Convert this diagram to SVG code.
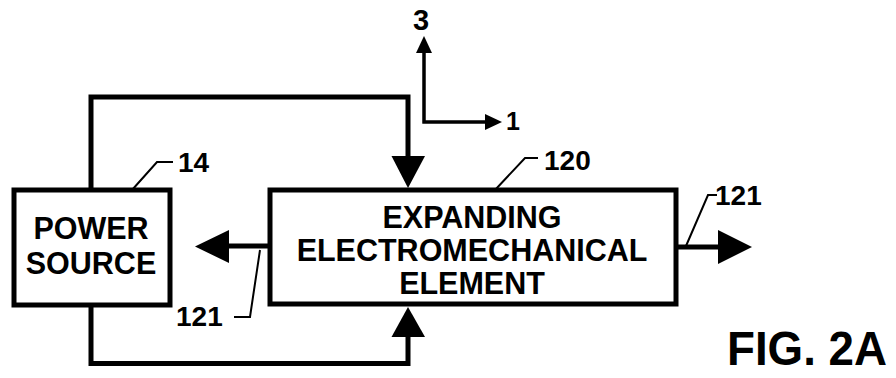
<svg xmlns="http://www.w3.org/2000/svg" width="896" height="378" viewBox="0 0 896 378">
<style>
.box{fill:#fff;stroke:#000;stroke-width:5}
.wire{fill:none;stroke:#000;stroke-width:5;stroke-linejoin:miter}
.axis{fill:none;stroke:#000;stroke-width:3.5}
.lead{fill:none;stroke:#000;stroke-width:2}
.head{fill:#000;stroke:none}
.t{font-family:"Liberation Sans",Arial,sans-serif;font-weight:bold;fill:#000}
.lbl{font-size:30.5px;text-anchor:middle}
.ref{font-size:28px}
</style>
<rect width="896" height="378" fill="#fff"/>
<g id="connectors">
<path class="wire" d="M91,190 V97 H408 V160"/>
<polygon class="head" points="391.5,156 425,156 408,188"/>
<path class="wire" d="M91,305 V363.5 H408 V334"/>
<polygon class="head" points="391.5,337 425,337 408,307"/>
<path class="wire" d="M270,246 H226"/>
<polygon class="head" points="229,230 229,263 195,246.5"/>
<path class="wire" d="M676,247 H722"/>
<polygon class="head" points="718,230 718,264 752,247"/>
</g>
<g id="axes">
<path class="axis" d="M424,123 V50 M422.3,122 H488"/>
<polygon class="head" points="416,53 432,53 424,36"/>
<polygon class="head" points="485,114 485,130 502,122"/>
<text class="t" x="421" y="30" font-size="29" text-anchor="middle">3</text>
<text class="t" x="506" y="130" font-size="25">1</text>
</g>
<g id="power-source">
<rect class="box" x="14" y="190" width="156" height="115"/>
<text class="t lbl" x="91" y="239">POWER</text>
<text class="t lbl" x="91" y="274">SOURCE</text>
</g>
<g id="expanding-element">
<rect class="box" x="270" y="190" width="406" height="114"/>
<text class="t lbl" x="472" y="228">EXPANDING</text>
<text class="t lbl" x="472" y="261">ELECTROMECHANICAL</text>
<text class="t lbl" x="472" y="294">ELEMENT</text>
</g>
<g id="labels">
<path class="lead" d="M132,190 L157,162 H173"/>
<text class="t ref" x="178" y="172">14</text>
<path class="lead" d="M495,190 L525,158 H538"/>
<text class="t ref" x="544" y="170">120</text>
<path class="lead" d="M260,250 L250,317 H234"/>
<text class="t ref" x="176" y="326">121</text>
<path class="lead" d="M686,246 L708,195 H717"/>
<text class="t ref" x="715" y="205">121</text>
</g>
<text class="t" x="727" y="365" font-size="48" textLength="160" lengthAdjust="spacingAndGlyphs">FIG. 2A</text>
</svg>
